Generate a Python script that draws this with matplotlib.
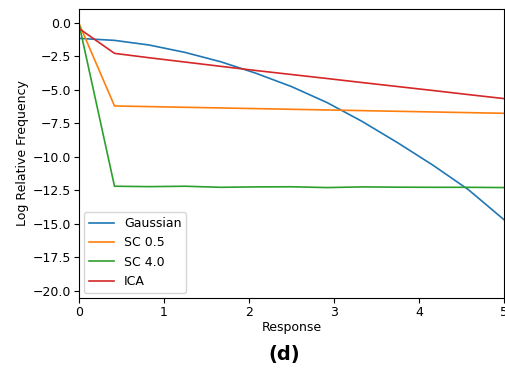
import matplotlib
matplotlib.use("Agg")
import matplotlib.pyplot as plt

x = [0.0, 0.42, 0.83, 1.25, 1.67, 2.08, 2.5, 2.92, 3.33, 3.75, 4.17, 4.58, 5.0]
gaussian = [-1.15, -1.3, -1.65, -2.2, -2.9, -3.75, -4.75, -5.95, -7.35, -8.95, -10.65, -12.45, -14.7]
sc05 = [0.0, -6.2, -6.25, -6.3, -6.35, -6.4, -6.45, -6.5, -6.55, -6.6, -6.65, -6.7, -6.75]
sc40 = [0.0, -12.2, -12.23, -12.2, -12.28, -12.25, -12.24, -12.3, -12.25, -12.27, -12.28, -12.28, -12.3]
ica = [-0.4, -2.27, -2.6, -2.92, -3.24, -3.55, -3.85, -4.15, -4.45, -4.75, -5.05, -5.35, -5.65]

series = [("Gaussian", gaussian, "#1f77b4"), ("SC 0.5", sc05, "#ff7f0e"),
          ("SC 4.0", sc40, "#2ca02c"), ("ICA", ica, "#d62728")]

plt.rcParams["font.family"] = "DejaVu Sans"
fs = 9

fig = plt.figure(figsize=(5.05, 3.72), dpi=100)
ax = fig.add_axes([0.156, 0.199, 0.842, 0.777])
for name, vals, c in series:
    ax.plot(x, vals, color=c, lw=1.2, label=name)
ax.set_xlim(0, 5)
ax.set_ylim(-20.55, 1.05)
ax.set_yticks([0.0, -2.5, -5.0, -7.5, -10.0, -12.5, -15.0, -17.5, -20.0])
ax.set_xticks([0, 1, 2, 3, 4, 5])
ax.tick_params(labelsize=fs, length=3.5, pad=2)
ax.set_xlabel("Response", fontsize=fs, labelpad=2)
ax.set_ylabel("Log Relative Frequency", fontsize=fs, labelpad=3)
ax.legend(loc="lower left", fontsize=fs, handlelength=2.0, borderaxespad=0.4)
fig.text(0.562, 0.046, "(d)", fontsize=14, fontweight="bold", ha="center", va="center")
fig.savefig("out.png", dpi=100)
